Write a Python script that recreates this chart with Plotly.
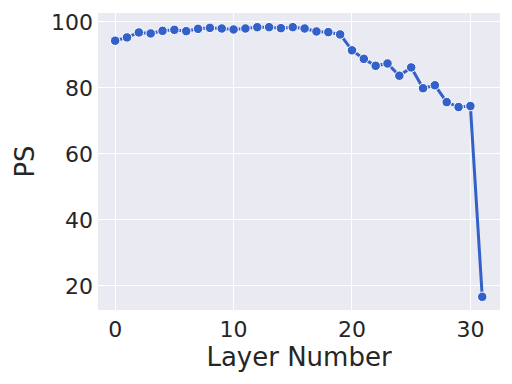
import plotly.graph_objects as go

layers = list(range(32))
ps = [94.3, 95.3, 96.8, 96.5, 97.3, 97.6, 97.2, 97.9, 98.2, 98.0, 97.7, 98.0,
      98.4, 98.4, 98.1, 98.4, 98.0, 97.1, 96.9, 96.2, 91.4, 88.8, 86.7, 87.4,
      83.7, 86.2, 79.9, 80.8, 75.7, 74.2, 74.5, 16.7]

fig = go.Figure()
fig.add_trace(go.Scatter(
    x=layers, y=ps, mode="lines+markers",
    line=dict(color="#3461C9", width=3),
    marker=dict(color="#3461C9", size=9.5, line=dict(color="white", width=1)),
))

# page body has an 8px default margin, so the figure is shrunk by 8px
fig.update_layout(
    width=504, height=376,
    margin=dict(l=90, r=12, t=5, b=74),
    paper_bgcolor="white", plot_bgcolor="#EAEAF2",
    font=dict(family="DejaVu Sans", size=22, color="#262626"),
    showlegend=False,
)
fig.update_xaxes(
    range=[-1.45, 32.5], tickvals=[0, 10, 20, 30], automargin=False,
    showgrid=True, gridcolor="white", gridwidth=1.2, zeroline=False,
    title=dict(text="Layer Number", font=dict(size=26), standoff=2),
    ticks="", ticklabelstandoff=4,
)
fig.update_yaxes(
    range=[12.7, 102.7], tickvals=[20, 40, 60, 80, 100], automargin=False,
    showgrid=True, gridcolor="white", gridwidth=1.2, zeroline=False,
    title=dict(text="PS", font=dict(size=26), standoff=8),
    ticks="", ticklabelstandoff=4,
)

fig.write_html("out.html")
